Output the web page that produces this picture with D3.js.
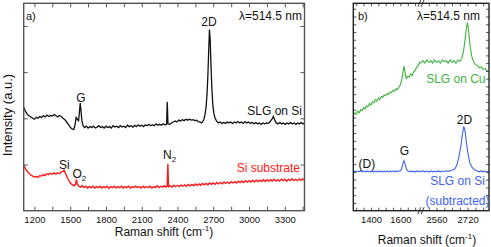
<!DOCTYPE html>
<html>
<head>
<meta charset="utf-8">
<script src="https://cdn.jsdelivr.net/npm/d3@7"></script>
<style>
  body { margin: 0; background: #fff; }
  svg { display: block; font-family: "Liberation Sans", Arial, sans-serif; }
</style>
</head>
<body>
<script>
// panel a) : SLG on Si and the bare Si substrate, full range
var slgOnSi = [[1110,2.24],[1125,2.15],[1140,2.09],[1155,2.05],[1170,2.03],[1185,2.0],[1200,1.98],[1215,2.02],[1230,2.0],[1245,2.04],[1260,2.02],[1275,2.06],[1290,2.03],[1305,2.07],[1320,2.04],[1335,2.06],[1350,2.05],[1365,2.08],[1380,2.06],[1395,2.03],[1410,2.06],[1425,2.04],[1440,2.0],[1455,1.97],[1470,1.92],[1485,1.87],[1500,1.81],[1515,1.77],[1530,1.76],[1540,1.85],[1550,2.02],[1560,1.98],[1570,1.95],[1578,2.15],[1584,2.33],[1590,2.18],[1598,1.95],[1608,1.84],[1620,1.8],[1635,1.83],[1650,1.79],[1665,1.82],[1680,1.8],[1695,1.83],[1710,1.79],[1725,1.81],[1740,1.84],[1755,1.8],[1770,1.82],[1785,1.79],[1800,1.83],[1815,1.8],[1830,1.82],[1845,1.79],[1860,1.84],[1875,1.81],[1890,1.83],[1905,1.8],[1920,1.84],[1935,1.81],[1950,1.83],[1965,1.8],[1980,1.85],[1995,1.82],[2010,1.84],[2025,1.81],[2040,1.85],[2055,1.82],[2070,1.86],[2085,1.83],[2100,1.85],[2115,1.82],[2130,1.86],[2145,1.84],[2160,1.87],[2175,1.84],[2190,1.86],[2205,1.84],[2220,1.88],[2235,1.85],[2250,1.87],[2265,1.85],[2280,1.88],[2295,1.86],[2308,1.87],[2314,2.36],[2320,1.88],[2335,1.87],[2350,1.9],[2365,1.92],[2380,1.94],[2395,1.92],[2410,1.96],[2425,1.94],[2440,1.97],[2455,1.95],[2470,1.98],[2485,1.96],[2500,1.98],[2515,1.96],[2530,1.97],[2545,1.95],[2560,1.96],[2575,1.93],[2590,1.92],[2600,1.9],[2610,1.92],[2620,1.97],[2630,2.07],[2640,2.25],[2648,2.55],[2655,2.95],[2662,3.5],[2668,3.92],[2674,3.7],[2680,3.2],[2688,2.65],[2696,2.3],[2705,2.1],[2715,2.0],[2728,1.94],[2742,1.9],[2757,1.92],[2772,1.89],[2787,1.91],[2802,1.89],[2817,1.92],[2832,1.9],[2847,1.92],[2862,1.89],[2877,1.92],[2892,1.9],[2907,1.93],[2922,1.9],[2937,1.92],[2952,1.89],[2967,1.93],[2982,1.9],[2997,1.92],[3012,1.89],[3027,1.91],[3042,1.88],[3057,1.91],[3072,1.88],[3087,1.9],[3102,1.87],[3117,1.9],[3132,1.88],[3147,1.9],[3162,1.89],[3177,1.93],[3192,1.98],[3204,2.04],[3215,1.96],[3228,1.9],[3243,1.88],[3258,1.91],[3273,1.88],[3288,1.9],[3303,1.87],[3318,1.9],[3333,1.88],[3348,1.91],[3363,1.88],[3378,1.9],[3393,1.87],[3408,1.9],[3423,1.88],[3438,1.91],[3453,1.88],[3465,1.9]];

var siSubstrate = [[1110,0.99],[1118,0.95],[1126,0.9],[1135,0.87],[1145,0.83],[1158,0.8],[1170,0.77],[1185,0.75],[1200,0.73],[1215,0.74],[1230,0.72],[1245,0.76],[1260,0.75],[1275,0.78],[1290,0.76],[1305,0.8],[1320,0.78],[1335,0.81],[1350,0.79],[1365,0.82],[1380,0.79],[1395,0.82],[1410,0.8],[1425,0.84],[1438,0.85],[1448,0.88],[1458,0.82],[1470,0.75],[1482,0.68],[1495,0.62],[1508,0.58],[1520,0.56],[1532,0.54],[1544,0.57],[1552,0.68],[1558,0.58],[1570,0.54],[1585,0.51],[1600,0.54],[1615,0.5],[1630,0.53],[1645,0.49],[1660,0.52],[1675,0.5],[1690,0.53],[1705,0.49],[1720,0.52],[1735,0.5],[1750,0.53],[1765,0.49],[1780,0.52],[1795,0.5],[1810,0.53],[1825,0.48],[1840,0.52],[1855,0.5],[1870,0.53],[1885,0.49],[1900,0.52],[1915,0.5],[1930,0.53],[1945,0.49],[1960,0.52],[1975,0.5],[1990,0.53],[2005,0.49],[2020,0.52],[2035,0.5],[2050,0.53],[2065,0.5],[2080,0.52],[2095,0.49],[2110,0.53],[2125,0.5],[2140,0.52],[2155,0.5],[2170,0.53],[2185,0.49],[2200,0.52],[2215,0.5],[2230,0.54],[2245,0.5],[2260,0.53],[2275,0.51],[2290,0.54],[2305,0.51],[2313,0.53],[2319,1.01],[2325,0.52],[2340,0.54],[2355,0.51],[2370,0.55],[2385,0.52],[2400,0.55],[2415,0.52],[2430,0.56],[2445,0.53],[2460,0.56],[2475,0.53],[2490,0.57],[2505,0.54],[2520,0.57],[2535,0.54],[2550,0.58],[2565,0.55],[2580,0.58],[2595,0.55],[2610,0.59],[2625,0.56],[2640,0.59],[2655,0.56],[2670,0.6],[2685,0.57],[2700,0.6],[2715,0.57],[2730,0.61],[2745,0.58],[2760,0.61],[2775,0.58],[2790,0.62],[2805,0.59],[2820,0.62],[2835,0.59],[2850,0.63],[2865,0.6],[2880,0.63],[2895,0.6],[2910,0.64],[2925,0.61],[2940,0.64],[2955,0.61],[2970,0.65],[2985,0.62],[3000,0.65],[3015,0.62],[3030,0.66],[3045,0.62],[3060,0.66],[3075,0.63],[3090,0.66],[3105,0.63],[3120,0.67],[3135,0.63],[3150,0.67],[3165,0.64],[3180,0.67],[3195,0.64],[3210,0.68],[3225,0.64],[3240,0.67],[3255,0.64],[3270,0.68],[3285,0.65],[3300,0.68],[3315,0.64],[3330,0.68],[3345,0.65],[3360,0.69],[3375,0.65],[3390,0.68],[3405,0.65],[3420,0.69],[3435,0.66],[3450,0.69],[3465,0.66]];

// panel b) : broken axis, G region and 2D region
var slgOnCuG = [[1280,12.3],[1290,12.6],[1300,12.4],[1310,12.8],[1320,12.6],[1330,13.0],[1340,12.9],[1350,13.3],[1360,13.1],[1370,13.5],[1380,13.4],[1390,13.8],[1400,13.6],[1410,14.0],[1420,13.9],[1430,14.3],[1440,14.1],[1450,14.5],[1460,14.3],[1470,14.7],[1480,14.6],[1490,14.9],[1500,14.8],[1510,15.1],[1520,15.0],[1530,15.3],[1540,15.2],[1550,15.5],[1560,15.4],[1570,15.7],[1580,15.6],[1590,15.9],[1600,16.2],[1610,16.9],[1618,17.9],[1625,18.6],[1632,17.8],[1640,17.0],[1650,17.3],[1660,17.2],[1670,17.6],[1680,17.4],[1690,17.9],[1700,18.0],[1710,18.5],[1720,18.6],[1730,19.1],[1740,19.0]];
var slgOnCu2D = [[2480,19.1],[2490,19.3],[2500,19.0],[2510,19.4],[2520,19.1],[2530,19.3],[2540,19.0],[2550,19.4],[2560,19.1],[2570,19.3],[2580,19.0],[2590,19.4],[2600,19.2],[2610,19.3],[2620,19.0],[2630,19.4],[2640,19.1],[2650,19.3],[2660,19.0],[2670,19.4],[2680,19.2],[2690,19.6],[2698,20.4],[2706,21.8],[2713,23.4],[2719,24.2],[2725,23.2],[2732,21.4],[2740,20.0],[2750,19.2],[2760,18.8],[2770,18.7],[2780,18.4],[2790,18.5],[2800,18.2],[2810,18.3],[2820,18.0],[2830,17.9]];
var subtractedG = [[1280,5.0],[1290,5.12],[1300,4.98],[1310,5.1],[1320,5.02],[1330,5.14],[1340,4.99],[1350,5.1],[1360,5.0],[1370,5.12],[1380,5.01],[1390,5.1],[1400,4.98],[1410,5.12],[1420,5.0],[1430,5.1],[1440,4.99],[1450,5.12],[1460,5.01],[1470,5.1],[1480,4.98],[1490,5.12],[1500,5.0],[1510,5.11],[1520,5.0],[1530,5.12],[1540,5.0],[1550,5.1],[1560,5.02],[1570,5.12],[1580,5.0],[1590,5.14],[1600,5.12],[1608,5.4],[1616,6.0],[1624,6.45],[1632,6.0],[1640,5.4],[1650,5.12],[1660,5.0],[1670,5.12],[1680,5.0],[1690,5.1],[1700,4.98],[1710,5.12],[1720,5.0],[1730,5.1],[1740,5.02]];
var subtracted2D = [[2480,5.02],[2490,5.12],[2500,5.0],[2510,5.1],[2520,4.98],[2530,5.12],[2540,5.0],[2550,5.1],[2560,5.0],[2570,5.12],[2580,5.0],[2590,5.1],[2600,5.02],[2610,5.14],[2620,5.06],[2630,5.16],[2640,5.2],[2655,5.4],[2665,5.9],[2675,6.9],[2685,8.3],[2693,9.8],[2700,10.85],[2707,10.2],[2714,8.7],[2722,7.3],[2732,6.1],[2745,5.5],[2760,5.2],[2770,5.1],[2780,5.0],[2790,5.12],[2800,5.0],[2810,5.1],[2820,4.98],[2830,5.06]];

var ticksA = [1200, 1500, 1800, 2100, 2400, 2700, 3000, 3300];
var minorA = [1200, 1350, 1500, 1650, 1800, 1950, 2100, 2250, 2400, 2550, 2700, 2850, 3000, 3150, 3300, 3450];
var ticksBLeft = [1400, 1600];
var minorBLeft = [1300, 1350, 1400, 1450, 1500, 1550, 1600, 1650, 1700];
var ticksBRight = [2560, 2720];
var minorBRight = [2520, 2560, 2600, 2640, 2680, 2720, 2760, 2800];

var axisColor = "#555";

var svg = d3.select("body").append("svg")
  .attr("width", 491)
  .attr("height", 247);

// ---- panel a ----
var ax = {left: 23.7, right: 304.5, top: 3.3, bottom: 210.7};
var xA = d3.scaleLinear().domain([1110, 3465]).range([ax.left, ax.right]);
var yA = d3.scaleLinear().domain([0, 4.49]).range([ax.bottom, ax.top]);

var gA = svg.append("g");

var lineA = d3.line().x(function(d){ return xA(d[0]); }).y(function(d){ return yA(d[1]); });

gA.append("path").datum(siSubstrate)
  .attr("d", lineA).attr("fill", "none").attr("stroke", "#ff1a1a").attr("stroke-width", 1.4);
gA.append("path").datum(slgOnSi)
  .attr("d", lineA).attr("fill", "none").attr("stroke", "#111").attr("stroke-width", 1.3);

function styleAxis(g) {
  g.select(".domain").remove();
  g.selectAll("line").attr("stroke", axisColor).attr("stroke-width", 1);
  g.selectAll("text").attr("fill", "#111").style("font-size", "9.5px").style("font-family", "Liberation Sans, Arial, sans-serif");
}

gA.append("g").attr("transform", "translate(0," + ax.bottom + ")")
  .call(d3.axisBottom(xA).tickValues(minorA).tickSize(-4).tickFormat(""))
  .call(styleAxis);
gA.append("g").attr("transform", "translate(0," + ax.bottom + ")")
  .call(d3.axisBottom(xA).tickValues(ticksA).tickSize(0).tickPadding(5.5).tickFormat(d3.format("d")))
  .call(styleAxis);
gA.append("g").attr("transform", "translate(0," + ax.top + ")")
  .call(d3.axisTop(xA).tickValues(minorA).tickSize(-4).tickFormat(""))
  .call(styleAxis);
gA.append("g").attr("transform", "translate(" + ax.left + ",0)")
  .call(d3.axisLeft(yA).tickValues([1, 2, 3, 4]).tickSize(-4).tickFormat(""))
  .call(styleAxis);
gA.append("g").attr("transform", "translate(" + ax.right + ",0)")
  .call(d3.axisRight(yA).tickValues([1, 2, 3, 4]).tickSize(-4).tickFormat(""))
  .call(styleAxis);

gA.append("rect")
  .attr("x", ax.left).attr("y", ax.top)
  .attr("width", ax.right - ax.left).attr("height", ax.bottom - ax.top)
  .attr("fill", "none").attr("stroke", axisColor).attr("stroke-width", 1.4);

// ---- panel b ----
var bx = {left: 353.3, right: 489, top: 3.3, bottom: 210.7, brk: 421};
var xBL = d3.scaleLinear().domain([1280, 1740]).range([bx.left, bx.brk]);
var xBR = d3.scaleLinear().domain([2480, 2830]).range([bx.brk, bx.right]);
var yB = d3.scaleLinear().domain([0, 26.7]).range([bx.bottom, bx.top]);

var gB = svg.append("g");
function lineB(xs) {
  return d3.line().x(function(d){ return xs(d[0]); }).y(function(d){ return yB(d[1]); });
}

gB.append("path").datum(slgOnCuG).attr("d", lineB(xBL))
  .attr("fill", "none").attr("stroke", "#3cb43c").attr("stroke-width", 1.1);
gB.append("path").datum(slgOnCu2D).attr("d", lineB(xBR))
  .attr("fill", "none").attr("stroke", "#3cb43c").attr("stroke-width", 1.1);
gB.append("path").datum(subtractedG).attr("d", lineB(xBL))
  .attr("fill", "none").attr("stroke", "#3f63f5").attr("stroke-width", 1.1);
gB.append("path").datum(subtracted2D).attr("d", lineB(xBR))
  .attr("fill", "none").attr("stroke", "#3f63f5").attr("stroke-width", 1.1);

[[xBL, minorBLeft, ticksBLeft], [xBR, minorBRight, ticksBRight]].forEach(function(s){
  gB.append("g").attr("transform", "translate(0," + bx.bottom + ")")
    .call(d3.axisBottom(s[0]).tickValues(s[1]).tickSize(-3).tickFormat(""))
    .call(styleAxis);
  gB.append("g").attr("transform", "translate(0," + bx.bottom + ")")
    .call(d3.axisBottom(s[0]).tickValues(s[2]).tickSize(0).tickPadding(6).tickFormat(d3.format("d")))
    .call(styleAxis);
  gB.append("g").attr("transform", "translate(0," + bx.top + ")")
    .call(d3.axisTop(s[0]).tickValues(s[1]).tickSize(-3).tickFormat(""))
    .call(styleAxis);
});

var yTicksB = d3.range(1, 27);
gB.append("g").attr("transform", "translate(" + bx.left + ",0)")
  .call(d3.axisLeft(yB).tickValues(yTicksB).tickSize(-3).tickFormat(""))
  .call(styleAxis);
gB.append("g").attr("transform", "translate(" + bx.right + ",0)")
  .call(d3.axisRight(yB).tickValues(yTicksB).tickSize(-3).tickFormat(""))
  .call(styleAxis);

gB.append("rect")
  .attr("x", bx.left).attr("y", bx.top)
  .attr("width", bx.right - bx.left).attr("height", bx.bottom - bx.top)
  .attr("fill", "none").attr("stroke", "#222").attr("stroke-width", 1.4);

// axis break marks
[bx.top, bx.bottom].forEach(function(yy){
  [-1.6, 1.6].forEach(function(dx){
    gB.append("line")
      .attr("x1", bx.brk + dx - 1.5).attr("y1", yy + 3.5)
      .attr("x2", bx.brk + dx + 1.5).attr("y2", yy - 3.5)
      .attr("stroke", "#222").attr("stroke-width", 0.9);
  });
});

// ---- texts ----
function label(x, y, txt, opts) {
  opts = opts || {};
  var t = svg.append("text")
    .attr("x", x).attr("y", y)
    .attr("fill", opts.color || "#111")
    .style("font-size", (opts.size || 12) + "px")
    .attr("text-anchor", opts.anchor || "start")
    .text(txt);
  if (opts.sub) {
    t.append("tspan").attr("dy", 3).style("font-size", "8px").text(opts.sub);
  }
  return t;
}

label(26, 19.5, "a)", {size: 11});
label(302, 19.5, "\u03bb=514.5 nm", {anchor: "end"});
label(209, 25.5, "2D", {anchor: "middle"});
label(81, 101.5, "G", {anchor: "middle"});
label(302, 115, "SLG on Si", {anchor: "end"});
label(59, 168.5, "Si");
label(72.5, 177.5, "O", {sub: "2"});
label(163, 158.5, "N", {sub: "2"});
label(300, 171.5, "Si substrate", {anchor: "end", color: "#ff1a1a"});

label(358, 19.5, "b)", {size: 11});
label(480, 19.5, "\u03bb=514.5 nm", {anchor: "end"});
label(485.5, 83, "SLG on Cu", {anchor: "end", color: "#3cb43c"});
label(464.5, 124, "2D", {anchor: "middle"});
label(404.5, 155, "G", {anchor: "middle"});
label(358.5, 168, "(D)");
label(457.5, 185, "SLG on Si", {anchor: "middle", color: "#3f63f5"});
label(457.5, 204.5, "(subtracted)", {anchor: "middle", color: "#3f63f5"});

function axisTitle(x, y) {
  var t = svg.append("text").attr("x", x).attr("y", y)
    .attr("text-anchor", "middle").attr("fill", "#111").style("font-size", "12px");
  t.append("tspan").text("Raman shift (cm");
  t.append("tspan").attr("dy", -5).style("font-size", "8px").text("-1");
  t.append("tspan").attr("dy", 5).text(")");
}
axisTitle(164, 235.5);
axisTitle(427, 243.5);

svg.append("text")
  .attr("transform", "translate(11.5,115) rotate(-90)")
  .attr("text-anchor", "middle").attr("fill", "#111").style("font-size", "13px")
  .text("Intensity (a.u.)");
</script>
</body>
</html>
